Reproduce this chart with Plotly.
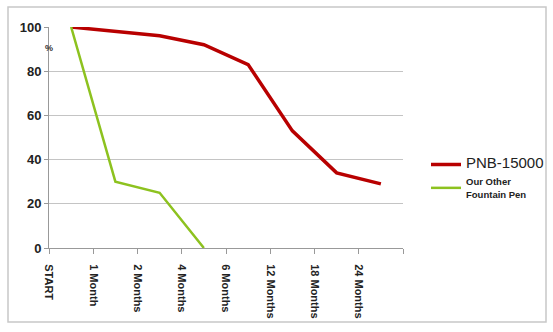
import plotly.graph_objects as go

categories = ["START", "1 Month", "2 Months", "4 Months", "6 Months", "12 Months", "18 Months", "24 Months"]
pnb_values = [100, 98, 96, 92, 83, 53, 34, 29]
other_values = [100, 30, 25, 0]

x_pos = [i + 0.5 for i in range(len(categories))]

fig = go.Figure()
fig.add_trace(go.Scatter(
    x=x_pos, y=pnb_values, mode="lines",
    name="<span style='font-size:15px'>PNB-15000</span>",
    line=dict(color="#b80000", width=3.5),
))
fig.add_trace(go.Scatter(
    x=x_pos[:len(other_values)], y=other_values, mode="lines",
    name="<b>Our Other<br>Fountain Pen</b>",
    line=dict(color="#8dc21f", width=2.5),
))

W, H = 553, 332
L, R, T, B = 49, 150, 27, 84
pw, ph = W - L - R, H - T - B

def px_to_paper_x(px):
    return (px - L) / pw

def px_to_paper_y(py):
    return (H - B - py) / ph

fig.add_shape(type="rect", xref="paper", yref="paper",
              x0=px_to_paper_x(8), x1=px_to_paper_x(546),
              y0=px_to_paper_y(322), y1=px_to_paper_y(7),
              line=dict(color="#c8c8c8", width=1.5), layer="below")

fig.add_annotation(xref="paper", yref="paper", x=px_to_paper_x(43), y=px_to_paper_y(41),
                   text="<b>%</b>", showarrow=False, font=dict(size=9, color="#333"))

fig.update_layout(
    width=W, height=H,
    margin=dict(l=L, r=R, t=T, b=B, autoexpand=False),
    paper_bgcolor="white", plot_bgcolor="white",
    font=dict(family="Liberation Sans, Arial, sans-serif", color="#222"),
    showlegend=True,
    legend=dict(x=px_to_paper_x(426), y=px_to_paper_y(150), xanchor="left", yanchor="top",
                font=dict(size=9.5, color="#222"), tracegroupgap=11,
                bgcolor="rgba(0,0,0,0)"),
    xaxis=dict(
        range=[0, len(categories)],
        tickvals=list(range(len(categories) + 1)),
        ticktext=categories + [""],
        tickangle=90,
        ticks="outside", ticklen=5, tickcolor="#999",
        showline=True, linecolor="#999", linewidth=1,
        showgrid=False, zeroline=False,
        tickfont=dict(size=11, color="#222", weight="bold"),
        ticklabelstandoff=8,
        automargin=False,
    ),
    yaxis=dict(
        range=[0, 100],
        tickvals=[0, 20, 40, 60, 80, 100],
        ticks="outside", ticklen=4, tickcolor="#999",
        showline=True, linecolor="#999", linewidth=1,
        showgrid=True, gridcolor="#c4c4c4", gridwidth=1,
        zeroline=False,
        tickfont=dict(size=13, color="#222", weight="bold"),
        automargin=False,
    ),
)

fig.write_html("out.html")
